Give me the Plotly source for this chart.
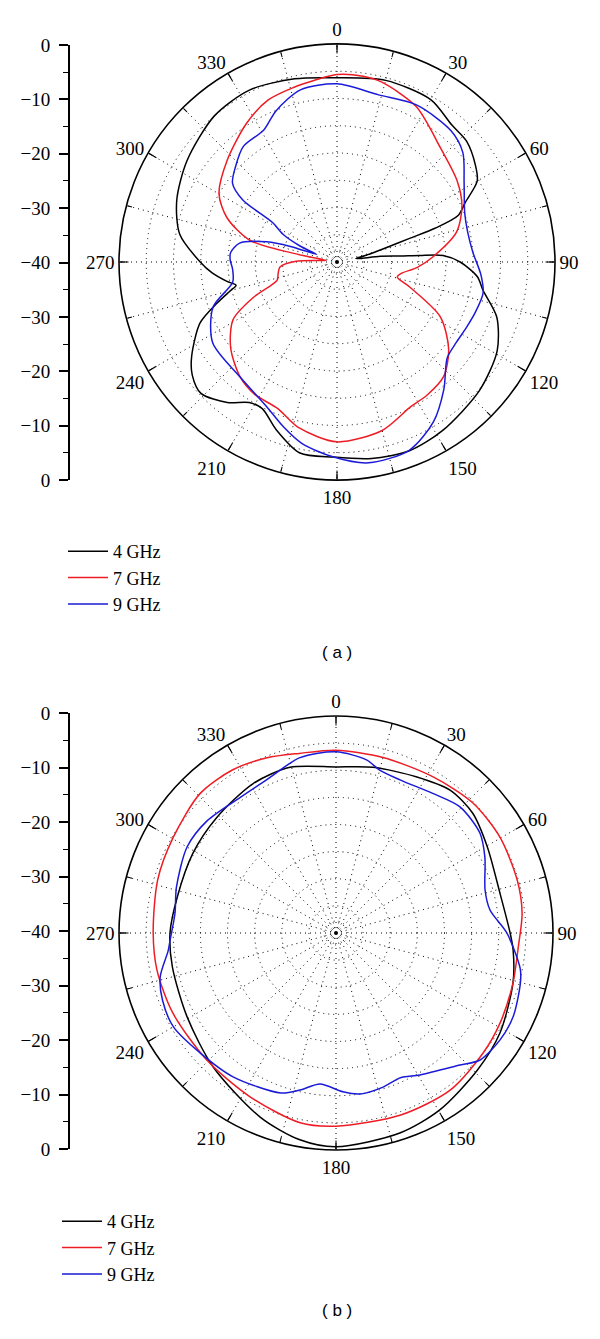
import plotly.graph_objects as go

# ---- data (dB vs angle in degrees) ----
ANGLE_LABELS = ["0", "30", "60", "90", "120", "150", "180", "210", "240", "270", "300", "330"]
RADIAL_LABELS = ["0", "−10", "−20", "−30", "−40", "−30", "−20", "−10", "0"]
SERIES_NAMES = ["4 GHz", "7 GHz", "9 GHz"]
SERIES_COLORS = ["#000000", "#ee1c24", "#1a1ad8"]

# (a)
a_theta_4 = [0, 15, 30, 40, 47, 55, 60, 65, 69, 71, 72, 74, 77, 80, 82.5, 84.6, 85.5, 86.5, 90, 96, 101,
             109, 119, 132, 148, 159, 170, 181, 191, 200, 207, 212, 218, 226, 232, 237, 246, 251, 255, 257,
             260, 265, 270, 280, 291, 304, 320, 333, 347, 360]
a_db_4 = [-6.2, -5.5, -5.6, -7.2, -7.5, -9.0, -10.3, -14.0, -16.2, -21, -26, -31, -34.5, -36.5, -32, -28.4,
          -24.8, -20.5, -17.4, -14.1, -12.7, -9.0, -6.4, -4.8, -3.5, -2.9, -3.4, -4.2, -4.3, -7.3, -9.8, -9.6,
          -7.3, -5.3, -6.3, -8.2, -12.5, -16.7, -19.8, -21, -19.5, -17, -14.9, -10.7, -8.5, -6.8, -5.0, -4.6,
          -5.5, -6.2]

a_theta_7 = [0, 8, 14, 27, 42, 56, 66, 76, 87, 94, 100, 104, 109, 118, 128, 137, 146, 153, 165, 180, 193,
             202, 212, 220, 231, 241, 247, 253, 259, 265, 271, 275, 278, 281, 284, 292, 300, 313, 327, 337,
             346, 353, 360]
a_db_7 = [-5.6, -5.6, -6.0, -8.0, -11.7, -13.4, -14.9, -17.4, -22.4, -25.3, -28, -28.6, -25.9, -18.5, -14.0,
          -11.3, -10.5, -10.2, -8.0, -7.0, -8.8, -11.0, -11.4, -12.4, -14.9, -18.2, -23.3, -28.5, -29.0, -29.5,
          -32.5, -37, -38, -33, -23.5, -18.2, -15.0, -12.5, -9.6, -7.7, -7.0, -6.4, -5.6]

a_theta_9 = [0, 14, 27, 41, 49, 58, 69, 77, 86, 95, 102, 110, 117, 124, 131, 140, 149, 159, 171, 181, 191,
             198, 206, 220, 237, 250, 259, 266, 271, 275, 281, 286, 288.5, 290.5, 293.4, 297, 301.4, 303.4,
             307, 313, 321, 331, 338, 348, 360]
a_db_9 = [-7.3, -8.4, -7.7, -8.1, -9.4, -12.5, -14.9, -15.4, -15.0, -13.5, -12.6, -13.0, -13.4, -13.6, -13.2,
          -9.5, -5.7, -3.0, -2.7, -4.2, -6.1, -8.2, -10.5, -12.4, -12.8, -15.8, -20.5, -20.8, -20.4, -20.4,
          -21.8, -26.6, -31, -36, -32.6, -29, -26.2, -19.3, -16, -14.5, -12.7, -12.3, -10.1, -7.7, -7.3]

# (b)
b_theta_4 = [0, 12.6, 27.4, 38.6, 48.8, 60.3, 76.3, 90, 95.5, 105.8, 121.4, 134, 149.6, 162.3, 180, 189.9,
             202.4, 222.5, 240.6, 258.3, 270, 282.8, 299, 314, 331, 344.5, 360]
b_db_4 = [-9.4, -8.7, -7.6, -6.3, -6.5, -7.9, -8.9, -7.9, -7.2, -6.1, -4.6, -3.7, -2.2, -1.3, -0.6, -1.3,
          -3.3, -6.5, -8.5, -9.2, -9.4, -10.0, -9.8, -9.4, -8.5, -8.3, -9.4]

b_theta_7 = [0, 15, 31.9, 46.5, 59.7, 73.7, 83.9, 94.4, 105.8, 118.8, 129.2, 144, 160.4, 180, 190.7, 207.7,
             225.5, 243.9, 258.3, 270, 286.6, 300.5, 315.8, 327.7, 338.5, 348.4, 360]
b_db_7 = [-6.3, -6.5, -6.1, -5.2, -5.0, -5.2, -5.5, -6.3, -6.1, -5.5, -5.0, -4.2, -4.4, -4.4, -4.4, -5.9,
          -6.6, -6.5, -6.3, -6.3, -5.7, -5.2, -4.1, -4.4, -5.3, -6.2, -6.3]

b_theta_9 = [0, 10, 15, 22.7, 34.7, 44.5, 55.2, 63, 73.9, 81.5, 90, 101, 105, 115, 123, 131.4, 136.8, 149.4,
             156, 163, 171.5, 177.5, 186, 192.9, 199, 215.6, 228.6, 240, 248.8, 256, 264, 267.6, 277, 286,
             300, 311, 324.8, 335.7, 348.4, 360]
b_db_9 = [-6.6, -7.6, -8.9, -9.4, -8.7, -7.4, -7.7, -9.2, -11.4, -11.3, -8.5, -5.4, -4.8, -3.9, -3.9, -4.6,
          -6.6, -9.6, -10.8, -10.3, -10.0, -10.7, -12.0, -10.3, -8.8, -7.4, -6.6, -5.4, -5.7, -6.6, -8.9, -9.4,
          -10.1, -9.4, -8.3, -8.5, -9.4, -9.0, -7.0, -6.6]

R_MIN, R_MAX = -40, 0
GRID_DB = [-37.8, -35, -30, -25, -20, -15, -10, -5]

# the page puts the plot 8px in from the top-left corner
OFF = 8
W, H = 600 - OFF, 1339 - OFF
SERIF = "Liberation Serif"
SANS = "Liberation Sans"


def px_x(v):
    return (v - OFF) / W


def px_y(v):
    return 1 - (v - OFF) / H


fig = go.Figure()

panels = [
    ("polar", "polar3", "legend", [(a_theta_4, a_db_4), (a_theta_7, a_db_7), (a_theta_9, a_db_9)]),
    ("polar2", "polar4", "legend2", [(b_theta_4, b_db_4), (b_theta_7, b_db_7), (b_theta_9, b_db_9)]),
]

for sub, over, leg, series in panels:
    for (th, db), name, col in zip(series, SERIES_NAMES, SERIES_COLORS):
        fig.add_trace(go.Scatterpolar(
            r=db, theta=th, mode="lines", name=name, subplot=sub, legend=leg,
            line=dict(color=col, width=1.5, shape="spline", smoothing=0.8),
        ))
    # centre dot
    fig.add_trace(go.Scatterpolar(r=[R_MIN], theta=[0], mode="markers", subplot=sub, showlegend=False,
                                  marker=dict(color="black", size=4)))
    # empty trace so the overlay (long ticks) subplot gets drawn
    fig.add_trace(go.Scatterpolar(r=[], theta=[], subplot=over, showlegend=False))

# left dB scales
fig.add_trace(go.Scatter(x=[], y=[], xaxis="x", yaxis="y", showlegend=False))
fig.add_trace(go.Scatter(x=[], y=[], xaxis="x2", yaxis="y2", showlegend=False))


def polar_cfg(xd, yd):
    return dict(
        domain=dict(x=xd, y=yd),
        bgcolor="white",
        angularaxis=dict(
            direction="clockwise", rotation=90,
            tickvals=list(range(0, 360, 15)),
            ticktext=[ANGLE_LABELS[i // 2] if i % 2 == 0 else "" for i in range(24)],
            ticks="inside", ticklen=5, tickwidth=1, tickcolor="black",
            showline=True, linecolor="black", linewidth=1.6,
            showgrid=True, gridcolor="black", gridwidth=1, griddash="1px,4px",
            tickfont=dict(family=SERIF, size=19, color="black"),
        ),
        radialaxis=dict(
            range=[R_MIN, R_MAX], tickvals=GRID_DB, showticklabels=False, ticks="",
            showline=False, showgrid=True, gridcolor="black", gridwidth=1, griddash="1px,4px",
        ),
    )


def overlay_cfg(xd, yd):
    return dict(
        domain=dict(x=xd, y=yd),
        bgcolor="rgba(0,0,0,0)",
        angularaxis=dict(
            direction="clockwise", rotation=90, tickvals=list(range(0, 360, 30)),
            ticks="inside", ticklen=9, tickwidth=1.2, tickcolor="black",
            showticklabels=False, showline=False, showgrid=False,
        ),
        radialaxis=dict(visible=False, range=[R_MIN, R_MAX]),
    )


a_xd = [px_x(119), px_x(555)]
a_yd = [px_y(480), px_y(44)]
b_xd = [px_x(119), px_x(553)]
b_yd = [px_y(1150), px_y(716)]


def yaxis_cfg(yd, anchor):
    return dict(
        domain=yd, anchor=anchor, range=[-40, 40], automargin=False,
        tickvals=[-40, -30, -20, -10, 0, 10, 20, 30, 40],
        ticktext=RADIAL_LABELS[::-1],
        ticks="outside", ticklen=9, tickwidth=1.5, tickcolor="black",
        minor=dict(dtick=5, ticks="outside", ticklen=5, tickwidth=1.2, tickcolor="black"),
        showline=True, linecolor="black", linewidth=1.8, showgrid=False, zeroline=False,
        ticklabelstandoff=5,
        tickfont=dict(family=SERIF, size=19, color="black"),
    )


def xaxis_cfg(anchor):
    return dict(domain=[px_x(70), px_x(71)], anchor=anchor, visible=False, showgrid=False,
                automargin=False)


leg_common = dict(
    xanchor="left", yanchor="top", bgcolor="rgba(0,0,0,0)", borderwidth=0, itemwidth=40,
    font=dict(family=SERIF, size=18, color="black"),
)

fig.update_layout(
    template="none",
    width=W, height=H,
    margin=dict(l=0, r=0, t=0, b=0, pad=0),
    paper_bgcolor="white",
    plot_bgcolor="white",
    polar=polar_cfg(a_xd, a_yd),
    polar3=overlay_cfg(a_xd, a_yd),
    polar2=polar_cfg(b_xd, b_yd),
    polar4=overlay_cfg(b_xd, b_yd),
    xaxis=xaxis_cfg("y"),
    yaxis=yaxis_cfg([px_y(480), px_y(45)], "x"),
    xaxis2=xaxis_cfg("y2"),
    yaxis2=yaxis_cfg([px_y(1149), px_y(713)], "x2"),
    legend=dict(x=px_x(63), y=px_y(533), **leg_common),
    legend2=dict(x=px_x(57), y=px_y(1203), **leg_common),
    annotations=[
        dict(text="( a )", x=px_x(337), y=px_y(652), xref="paper", yref="paper", showarrow=False,
             font=dict(family=SANS, size=17, color="black")),
        dict(text="( b )", x=px_x(337), y=px_y(1322), xref="paper", yref="paper", showarrow=False,
             font=dict(family=SANS, size=17, color="black")),
    ],
    showlegend=True,
)

fig.write_html("out.html")
